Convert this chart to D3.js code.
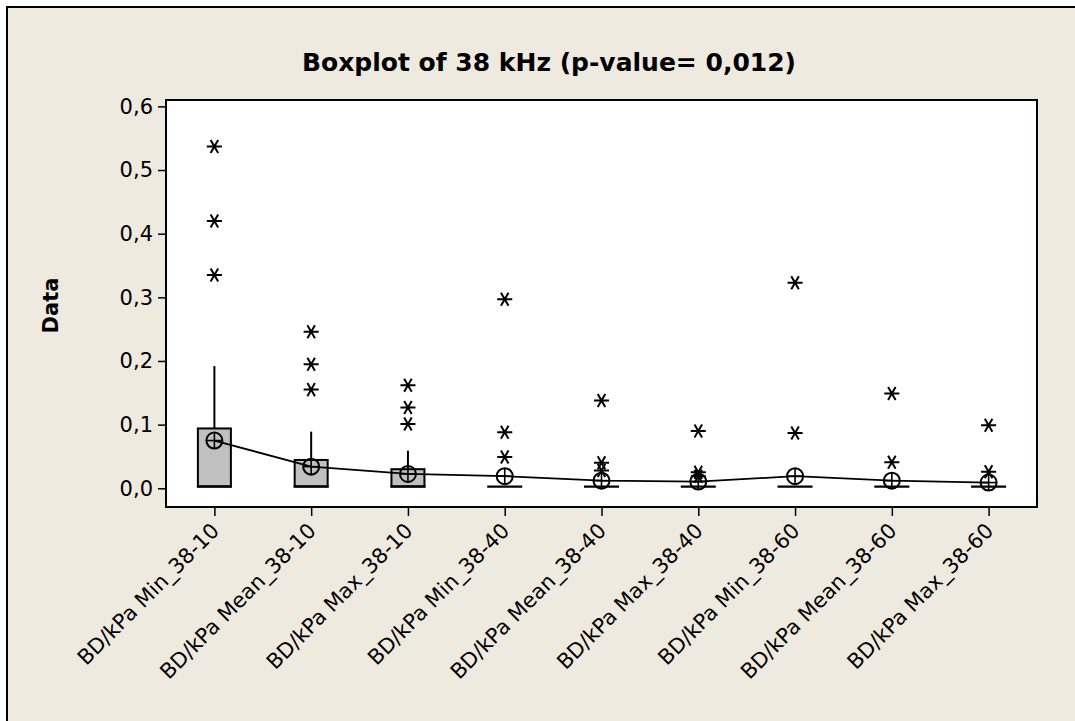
<!DOCTYPE html>
<html>
<head>
<meta charset="utf-8">
<script src="https://cdn.jsdelivr.net/npm/d3@7"></script>
<style>
  html, body { margin: 0; padding: 0; background: #ffffff; }
  svg { display: block; }
</style>
</head>
<body>
<svg id="chart" width="1075" height="721"></svg>
<script>
// ---- Data ----
const title = "Boxplot of 38 kHz (p-value= 0,012)";
const yLabel = "Data";
const categories = [
  "BD/kPa Min_38-10", "BD/kPa Mean_38-10", "BD/kPa Max_38-10",
  "BD/kPa Min_38-40", "BD/kPa Mean_38-40", "BD/kPa Max_38-40",
  "BD/kPa Min_38-60", "BD/kPa Mean_38-60", "BD/kPa Max_38-60"
];
const q1Values      = [0.0025, 0.0025, 0.0025, 0.0025, 0.0025, 0.0025, 0.0025, 0.0025, 0.0025];
const medianValues  = [0.0030, 0.0030, 0.0030, 0.0025, 0.0025, 0.0025, 0.0025, 0.0025, 0.0025];
const q3Values      = [0.094, 0.0445, 0.030, 0.0025, 0.0025, 0.0025, 0.0025, 0.0025, 0.0025];
const whiskerHigh   = [0.192, 0.089, 0.059, 0.0025, 0.0025, 0.0025, 0.0025, 0.0025, 0.0025];
const meanValues    = [0.075, 0.034, 0.0225, 0.019, 0.012, 0.0105, 0.019, 0.012, 0.009];
const outlierValues = [
  [0.537, 0.420, 0.335],
  [0.246, 0.195, 0.155],
  [0.162, 0.127, 0.101],
  [0.297, 0.088, 0.049],
  [0.138, 0.040, 0.028],
  [0.090, 0.025, 0.019],
  [0.323, 0.087],
  [0.149, 0.041],
  [0.099, 0.026]
];
const yTickValues = [0, 0.1, 0.2, 0.3, 0.4, 0.5, 0.6];

// ---- Layout ----
const svg = d3.select("#chart");
const plot = { left: 166, top: 100, right: 1037, bottom: 507 };
const bg = "#EEEAE0";
const font = "'DejaVu Sans', Verdana, sans-serif";

// outer frame
svg.append("rect")
  .attr("x", 7).attr("y", 7).attr("width", 1200).attr("height", 900)
  .attr("fill", bg).attr("stroke", "#000").attr("stroke-width", 2);

// plot area
svg.append("rect")
  .attr("x", plot.left).attr("y", plot.top)
  .attr("width", plot.right - plot.left).attr("height", plot.bottom - plot.top)
  .attr("fill", "#ffffff").attr("stroke", "#000").attr("stroke-width", 2);

// scales
const x = d3.scalePoint().domain(categories).range([plot.left, plot.right]).padding(0.5);
const y = d3.scaleLinear().domain([-0.0294, 0.61]).range([plot.bottom, plot.top]);
const fmt = v => d3.format(".1f")(v).replace(".", ",");

// y axis
const yAxis = svg.append("g")
  .attr("transform", `translate(${plot.left},0)`)
  .call(d3.axisLeft(y).tickValues(yTickValues).tickFormat(fmt).tickSize(8).tickSizeOuter(0).tickPadding(5));
yAxis.select(".domain").remove();
yAxis.selectAll("line").attr("stroke", "#000").attr("stroke-width", 1.5);
yAxis.selectAll("text").attr("font-family", font).attr("font-size", 21).attr("fill", "#000");

// x axis
const xAxis = svg.append("g")
  .attr("transform", `translate(0,${plot.bottom})`)
  .call(d3.axisBottom(x).tickSize(9).tickSizeOuter(0));
xAxis.select(".domain").remove();
xAxis.selectAll("line").attr("stroke", "#000").attr("stroke-width", 1.5);
xAxis.selectAll("text").remove();

// x labels rotated
svg.append("g").selectAll("text")
  .data(categories)
  .join("text")
  .attr("transform", d => `translate(${x(d) + 6},${plot.bottom + 25}) rotate(-45)`)
  .attr("text-anchor", "end")
  .attr("font-family", font)
  .attr("font-size", 21)
  .attr("fill", "#000")
  .text(d => d);

// title
svg.append("text")
  .attr("x", 549).attr("y", 71)
  .attr("text-anchor", "middle")
  .attr("font-family", font)
  .attr("font-weight", "bold")
  .attr("font-size", 25)
  .attr("fill", "#000")
  .text(title);

// y label
svg.append("text")
  .attr("transform", `translate(58,${(plot.top + plot.bottom) / 2 + 2}) rotate(-90)`)
  .attr("text-anchor", "middle")
  .attr("font-family", font)
  .attr("font-weight", "bold")
  .attr("font-size", 21)
  .attr("fill", "#000")
  .text(yLabel);

// box data rows
const rows = categories.map((c, i) => ({
  cat: c, q1: q1Values[i], med: medianValues[i], q3: q3Values[i],
  hi: whiskerHigh[i], mean: meanValues[i], out: outlierValues[i]
}));
const boxW = 33;
const g = svg.append("g");

// whiskers
g.selectAll("line.whisker").data(rows).join("line")
  .attr("class", "whisker")
  .attr("x1", d => x(d.cat)).attr("x2", d => x(d.cat))
  .attr("y1", d => y(d.q3)).attr("y2", d => y(d.hi))
  .attr("stroke", "#000").attr("stroke-width", 2);

// boxes
g.selectAll("rect.box").data(rows).join("rect")
  .attr("class", "box")
  .attr("x", d => x(d.cat) - boxW / 2)
  .attr("width", boxW)
  .attr("y", d => y(d.q3))
  .attr("height", d => Math.max(0, y(d.q1) - y(d.q3)))
  .attr("fill", "#C0C0C0").attr("stroke", "#000").attr("stroke-width", 2);

// medians
g.selectAll("line.median").data(rows).join("line")
  .attr("class", "median")
  .attr("x1", d => x(d.cat) - boxW / 2 - 1).attr("x2", d => x(d.cat) + boxW / 2 + 1)
  .attr("y1", d => y(d.med)).attr("y2", d => y(d.med))
  .attr("stroke", "#000").attr("stroke-width", 2.2);

// mean connect line
g.append("path")
  .datum(rows)
  .attr("fill", "none").attr("stroke", "#000").attr("stroke-width", 1.8)
  .attr("d", d3.line().x(d => x(d.cat)).y(d => y(d.mean)));

// mean symbols (circle with cross)
const r = 8;
const ms = g.selectAll("g.mean").data(rows).join("g")
  .attr("class", "mean")
  .attr("transform", d => `translate(${x(d.cat)},${y(d.mean)})`);
ms.append("circle").attr("r", r).attr("fill", "none").attr("stroke", "#000").attr("stroke-width", 2);
ms.append("line").attr("x1", -r).attr("x2", r).attr("stroke", "#000").attr("stroke-width", 1.6);
ms.append("line").attr("y1", -r).attr("y2", r).attr("stroke", "#000").attr("stroke-width", 1.6);

// outliers (asterisks)
const outPts = rows.flatMap(d => d.out.map(v => ({ cat: d.cat, v })));
const star = d3.symbol().type(d3.symbolAsterisk).size(160);
g.selectAll("path.outlier").data(outPts).join("path")
  .attr("class", "outlier")
  .attr("transform", d => `translate(${x(d.cat)},${y(d.v)}) rotate(90)`)
  .attr("d", star)
  .attr("fill", "none").attr("stroke", "#000").attr("stroke-width", 2);
</script>
</body>
</html>
